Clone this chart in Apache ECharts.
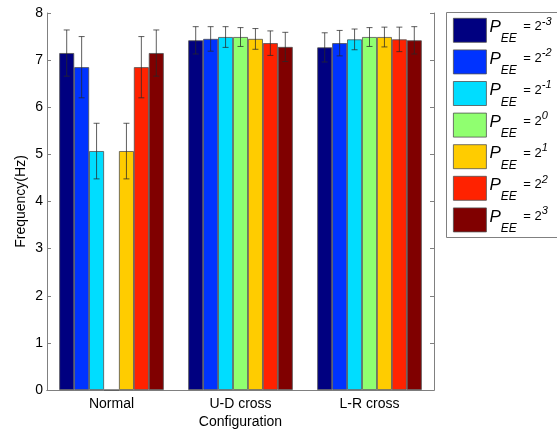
<!DOCTYPE html>
<html>
<head>
<meta charset="utf-8">
<script src="https://cdn.jsdelivr.net/npm/echarts@6/dist/echarts.min.js"></script>
<style>
html,body{margin:0;padding:0;background:#fff;}
#chart{width:557px;height:433px;}
</style>
</head>
<body>
<div id="chart"></div>
<script>
const categories = ['Normal', 'U-D cross', 'L-R cross'];
const exponents = ['-3', '-2', '-1', '0', '1', '2', '3'];
const colors = ['#000080', '#0033FF', '#00DDFF', '#90FF70', '#FFCC00', '#FF2200', '#800000'];
// mean per series (P_EE exponent) for each category
const meanNormal = [7.15, 6.85, 5.07, 0, 5.07, 6.85, 7.15];
const meanUD     = [7.42, 7.45, 7.49, 7.49, 7.45, 7.36, 7.28];
const meanLR     = [7.27, 7.36, 7.44, 7.49, 7.49, 7.44, 7.42];
const errNormal  = [0.49, 0.65, 0.59, 0, 0.59, 0.65, 0.49];
const errUD      = [0.29, 0.26, 0.22, 0.20, 0.22, 0.26, 0.31];
const errLR      = [0.31, 0.27, 0.22, 0.20, 0.21, 0.26, 0.29];
const yTicks = [0, 1, 2, 3, 4, 5, 6, 7, 8];

const catGap = 0.19;
const nSeries = exponents.length;
const means = [meanNormal, meanUD, meanLR];
const errs = [errNormal, errUD, errLR];

const series = [];
exponents.forEach((e, i) => {
  series.push({
    name: 'P' + e,
    type: 'bar',
    data: means.map(m => m[i]),
    barGap: '0%',
    barCategoryGap: (catGap * 100) + '%',
    itemStyle: { color: colors[i], borderColor: '#505050', borderWidth: 0.8 },
    emphasis: { disabled: true },
    silent: true,
    z: 2
  });
});
exponents.forEach((e, i) => {
  const data = [];
  categories.forEach((c, k) => {
    if (errs[k][i] > 0) data.push([k, means[k][i] - errs[k][i], means[k][i] + errs[k][i]]);
  });
  series.push({
    type: 'custom',
    silent: true,
    z: 5,
    data: data,
    encode: { x: 0, y: [1, 2] },
    renderItem: function (params, api) {
      const k = api.value(0);
      const lo = api.coord([k, api.value(1)]);
      const hi = api.coord([k, api.value(2)]);
      const band = api.size([1, 0])[0];
      const bw = band * (1 - catGap) / nSeries;
      const x = lo[0] + (i - (nSeries - 1) / 2) * bw;
      const cap = 3;
      const st = { stroke: 'rgba(40,40,40,0.75)', lineWidth: 1 };
      return {
        type: 'group',
        children: [
          { type: 'line', shape: { x1: x, y1: lo[1], x2: x, y2: hi[1] }, style: st },
          { type: 'line', shape: { x1: x - cap, y1: lo[1], x2: x + cap, y2: lo[1] }, style: st },
          { type: 'line', shape: { x1: x - cap, y1: hi[1], x2: x + cap, y2: hi[1] }, style: st }
        ]
      };
    }
  });
});

const axisColor = '#808080';
const font = 'Liberation Sans, Arial, sans-serif';

const chart = echarts.init(document.getElementById('chart'), null, { renderer: 'canvas' });
chart.setOption({
  animation: false,
  backgroundColor: '#fff',
  textStyle: { fontFamily: font },
  grid: { left: 47, right: 123, top: 13, bottom: 43, outerBoundsMode: 'none', containLabel: false },
  graphic: [{
    type: 'rect', left: 446, top: 12,
    shape: { width: 130, height: 225 },
    style: { fill: '#fff', stroke: '#808080', lineWidth: 1 },
    z: -1
  }],
  legend: {
    orient: 'vertical',
    left: 453, top: 16,
    padding: 0,
    itemWidth: 33, itemHeight: 24, itemGap: 2.5,
    icon: 'rect',
    itemStyle: { borderColor: '#505050', borderWidth: 0.8 },
    data: exponents.map(e => 'P' + e),
    formatter: function (name) {
      const e = name.slice(1);
      return '{p|P}{s|EE}{n| = 2}{u|' + e + '}';
    },
    textStyle: {
      fontFamily: font,
      rich: {
        p: { fontSize: 17, fontStyle: 'italic', color: '#000', fontFamily: font, lineHeight: 26, verticalAlign: 'top', padding: [1.5, 0, 0, -2] },
        s: { fontSize: 12, fontStyle: 'italic', color: '#000', fontFamily: font, lineHeight: 26, height: 6, verticalAlign: 'top', padding: [18.8, 0, 0, 0] },
        n: { fontSize: 13, color: '#000', fontFamily: font, lineHeight: 26, verticalAlign: 'top', padding: [3, 0, 0, 3] },
        u: { fontSize: 11, fontStyle: 'italic', color: '#000', fontFamily: font, lineHeight: 26, height: 6, verticalAlign: 'top', padding: [1.2, 0, 0, 0] }
      }
    }
  },
  xAxis: [{
    type: 'category',
    data: categories,
    name: 'Configuration',
    nameLocation: 'middle',
    nameGap: 25,
    nameMoveOverlap: false,
    nameTextStyle: { fontSize: 14, color: '#000', fontFamily: font },
    axisLine: { lineStyle: { color: axisColor } },
    axisTick: { inside: true, alignWithLabel: true, length: 4, lineStyle: { color: axisColor } },
    axisLabel: { fontSize: 14, color: '#000', margin: 7, fontFamily: font },
    splitLine: { show: false }
  }, {
    type: 'category',
    data: categories,
    position: 'top',
    axisLine: { lineStyle: { color: axisColor } },
    axisTick: { inside: true, alignWithLabel: true, length: 4, lineStyle: { color: axisColor } },
    axisLabel: { show: false }
  }],
  yAxis: [{
    type: 'value',
    min: 0, max: 8, interval: 1,
    name: 'Frequency(Hz)',
    nameLocation: 'middle',
    nameGap: 19,
    nameMoveOverlap: false,
    nameTextStyle: { fontSize: 14, color: '#000', fontFamily: font },
    axisLine: { show: true, lineStyle: { color: axisColor } },
    axisTick: { show: true, inside: true, length: 4, lineStyle: { color: axisColor } },
    axisLabel: { fontSize: 14, color: '#000', margin: 4, fontFamily: font,
      formatter: v => yTicks.includes(v) ? String(v) : '' },
    splitLine: { show: false }
  }, {
    type: 'value',
    min: 0, max: 8, interval: 1,
    position: 'right',
    axisLine: { show: true, lineStyle: { color: axisColor } },
    axisTick: { show: true, inside: true, length: 4, lineStyle: { color: axisColor } },
    axisLabel: { show: false },
    splitLine: { show: false }
  }],
  series: series
});
</script>
</body>
</html>
